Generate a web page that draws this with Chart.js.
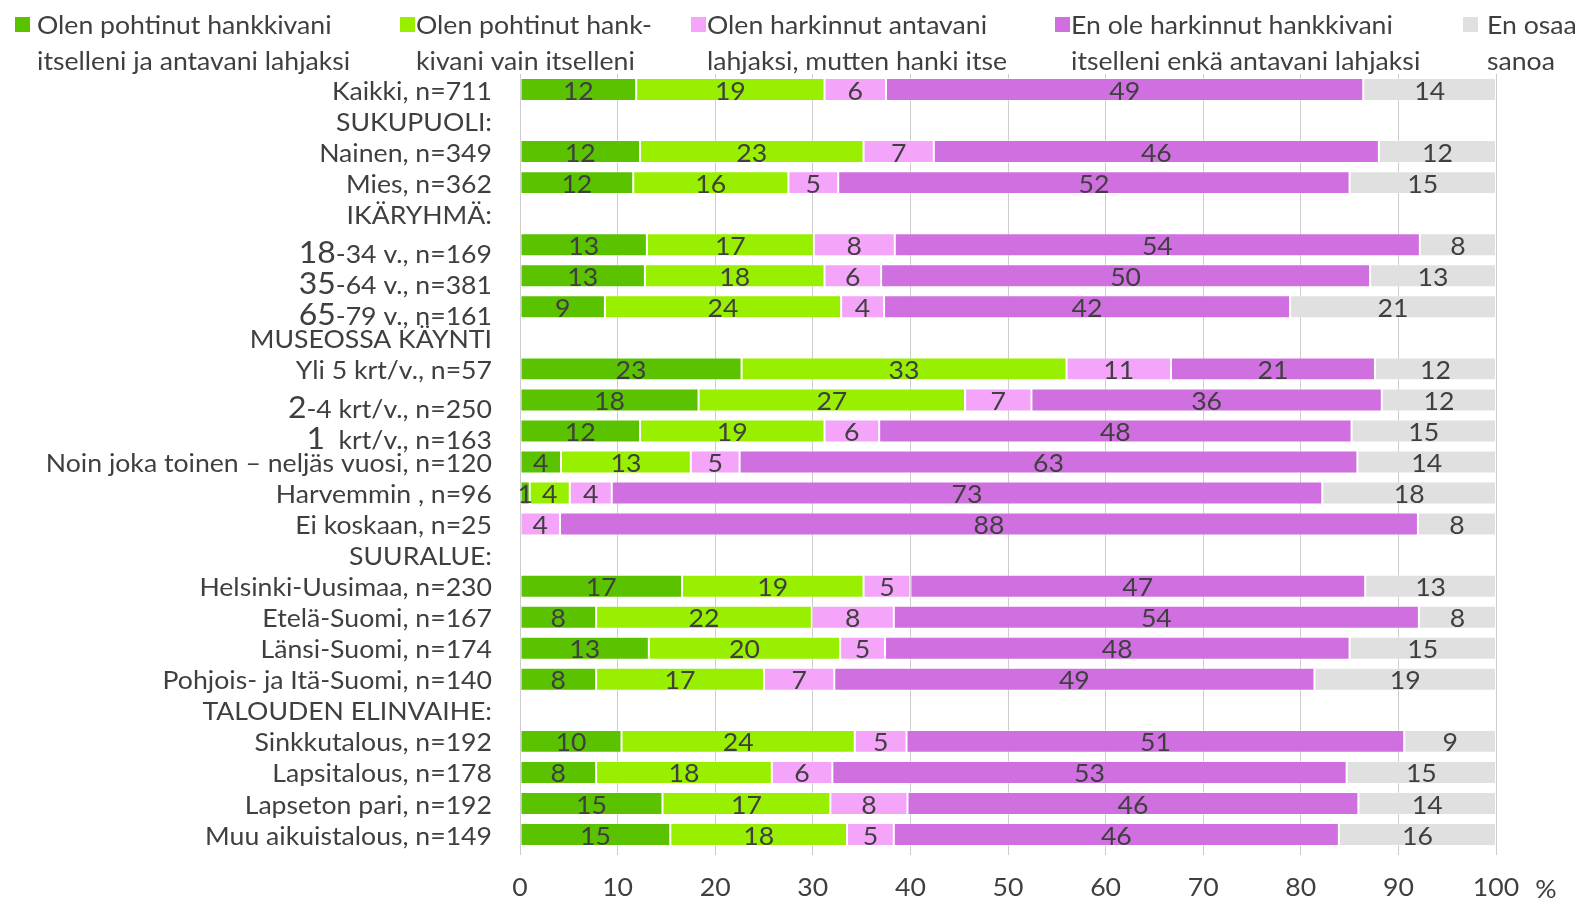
<!DOCTYPE html>
<html>
<head>
<meta charset="utf-8">
<script src="https://cdn.jsdelivr.net/npm/chart.js@4.4.1/dist/chart.umd.min.js"></script>
<style>
  html, body { margin: 0; padding: 0; background: #ffffff; }
  #wrap { width: 1581px; height: 899px; position: relative; }
</style>
</head>
<body>
<div id="wrap"><canvas id="chart" width="1581" height="899"></canvas></div>
<script>
// Row labels (group headings have no bars)
const categories = [
  'Kaikki, n=711',
  'SUKUPUOLI:',
  'Nainen, n=349',
  'Mies, n=362',
  'IKÄRYHMÄ:',
  '18-34 v., n=169',
  '35-64 v., n=381',
  '65-79 v., n=161',
  'MUSEOSSA KÄYNTI',
  'Yli 5 krt/v., n=57',
  '2-4 krt/v., n=250',
  '1  krt/v., n=163',
  'Noin joka toinen – neljäs vuosi, n=120',
  'Harvemmin , n=96',
  'Ei koskaan, n=25',
  'SUURALUE:',
  'Helsinki-Uusimaa, n=230',
  'Etelä-Suomi, n=167',
  'Länsi-Suomi, n=174',
  'Pohjois- ja Itä-Suomi, n=140',
  'TALOUDEN ELINVAIHE:',
  'Sinkkutalous, n=192',
  'Lapsitalous, n=178',
  'Lapseton pari, n=192',
  'Muu aikuistalous, n=149'
];

// Series names (two lines each in the legend)
const seriesNames = [
  ['Olen pohtinut hankkivani', 'itselleni ja antavani lahjaksi'],
  ['Olen pohtinut hank-', 'kivani vain itselleni'],
  ['Olen harkinnut antavani', 'lahjaksi, mutten hanki itse'],
  ['En ole harkinnut hankkivani', 'itselleni enkä antavani lahjaksi'],
  ['En osaa', 'sanoa']
];

// Shares, % of respondents
const bothValues    = [11.9, null, 12.3, 11.6, null, 13.0, 12.8,  8.7, null, 22.7, 18.3, 12.3,  4.2,  1.0,  0, null, 16.6,  7.8, 13.2,  7.8, null, 10.4,  7.8, 14.6, 15.4];
const selfValues    = [19.3, null, 22.9, 15.9, null, 17.1, 18.4, 24.2, null, 33.3, 27.3, 18.9, 13.3,  4.1,  0, null, 18.6, 22.1, 19.6, 17.2, null, 23.9, 18.0, 17.2, 18.1];
const giftValues    = [ 6.3, null,  7.2,  5.1, null,  8.3,  5.8,  4.4, null, 10.7,  6.8,  5.6,  5.0,  4.3,  4.1, null,  4.8,  8.4,  4.6,  7.2, null,  5.3,  6.2,  7.9,  4.8];
const neitherValues = [48.9, null, 45.6, 52.4, null, 53.8, 50.1, 41.6, null, 20.9, 35.9, 48.4, 63.3, 72.8, 87.9, null, 46.6, 53.8, 47.6, 49.2, null, 51.0, 52.7, 46.2, 45.6];
const unsureValues  = [13.6, null, 12.0, 15.0, null,  7.8, 12.9, 21.1, null, 12.4, 11.7, 14.8, 14.2, 17.8,  8.0, null, 13.4,  7.9, 15.0, 18.6, null,  9.4, 15.3, 14.1, 16.1];

const xTicks = [0, 10, 20, 30, 40, 50, 60, 70, 80, 90, 100];
const unitLabel = '%';

const seriesValues = [bothValues, selfValues, giftValues, neitherValues, unsureValues];
const seriesColors = ['#5BC200', '#99EF00', '#F4A5F9', '#D06FE0', '#E0E0E0'];

const FONT = 'Lato, "Open Sans", sans-serif';
const TEXT = '#3f3f3f';
const SIZE = 25;
const BIG = 30;
const STRETCH = 1.065;   // slightly widened lettering

function setFont(ctx, size) {
  ctx.font = size + 'px ' + FONT;
}

// Draws horizontally widened text anchored at (x, y)
function drawText(ctx, text, x, y, size, align, baseline) {
  ctx.save();
  setFont(ctx, size);
  ctx.textAlign = align;
  ctx.textBaseline = baseline;
  ctx.translate(x, y);
  ctx.scale(STRETCH, 1);
  ctx.fillText(text, 0, 0);
  ctx.restore();
}

function textWidth(ctx, text, size) {
  ctx.save();
  setFont(ctx, size);
  const w = ctx.measureText(text).width * STRETCH;
  ctx.restore();
  return w;
}

// Row labels at the left of the plot; leading numbers of age / visit rows are set larger
const rowLabelPlugin = {
  id: 'rowLabels',
  afterDraw(chart) {
    const ctx = chart.ctx;
    const yScale = chart.scales.y;
    const right = chart.chartArea.left - 28;
    ctx.save();
    ctx.fillStyle = TEXT;
    chart.data.labels.forEach((label, i) => {
      const py = yScale.getPixelForValue(i);
      const m = /^(\d+)(.*)$/.exec(label);
      if (m) {
        const base = py + 18;
        drawText(ctx, m[2], right, base, SIZE, 'right', 'alphabetic');
        const w = textWidth(ctx, m[2], SIZE);
        drawText(ctx, m[1], right - w, base, BIG, 'right', 'alphabetic');
      } else {
        drawText(ctx, label, right, py + 2, SIZE, 'right', 'middle');
      }
    });
    ctx.restore();
  }
};

// Value labels centred in each bar segment
const valueLabelPlugin = {
  id: 'valueLabels',
  afterDatasetsDraw(chart) {
    const ctx = chart.ctx;
    ctx.save();
    ctx.fillStyle = TEXT;
    chart.data.datasets.forEach((ds, di) => {
      const meta = chart.getDatasetMeta(di);
      meta.data.forEach((bar, i) => {
        const v = ds.data[i];
        if (v === null || v === undefined || v <= 0) return;
        const cx = (bar.x + bar.base) / 2;
        drawText(ctx, String(Math.round(v)), cx, bar.y + 2, SIZE, 'center', 'middle');
      });
    });
    ctx.restore();
  }
};

// Two-line legend across the top
const legendPlugin = {
  id: 'topLegend',
  afterDraw(chart, args, opts) {
    const ctx = chart.ctx;
    ctx.save();
    chart.data.datasets.forEach((ds, i) => {
      const x = opts.itemX[i];
      ctx.fillStyle = ds.backgroundColor;
      ctx.fillRect(x, opts.lineY[0] - 8, 15, 15);
      ctx.fillStyle = TEXT;
      seriesNames[i].forEach((line, li) => {
        drawText(ctx, line, x + opts.textGap[i], opts.lineY[li] + 1, SIZE, 'left', 'middle');
      });
    });
    ctx.restore();
  }
};

// X tick labels and the unit label after the last tick
const xLabelPlugin = {
  id: 'xLabels',
  afterDraw(chart) {
    const ctx = chart.ctx;
    const xScale = chart.scales.x;
    const y = chart.chartArea.bottom + 38;
    ctx.save();
    ctx.fillStyle = TEXT;
    xTicks.forEach(v => {
      drawText(ctx, String(v), xScale.getPixelForValue(v), y, SIZE, 'center', 'middle');
    });
    drawText(ctx, unitLabel, xScale.getPixelForValue(100) + 50, y + 2, SIZE, 'center', 'middle');
    ctx.restore();
  }
};

const datasets = seriesValues.map((vals, i) => ({
  label: seriesNames[i].join(' '),
  data: vals,
  backgroundColor: seriesColors[i],
  borderColor: 'rgba(255,255,255,0.35)',
  borderWidth: 1,
  borderSkipped: false,
  barPercentage: 0.74,
  categoryPercentage: 1.0
}));

new Chart(document.getElementById('chart'), {
  type: 'bar',
  data: { labels: categories, datasets },
  options: {
    indexAxis: 'y',
    responsive: false,
    animation: false,
    layout: { padding: { left: 520, right: 85, top: 74, bottom: 0 } },
    scales: {
      x: {
        stacked: true,
        min: 0,
        max: 100,
        afterBuildTicks(scale) { scale.ticks = xTicks.map(v => ({ value: v })); },
        afterFit(scale) { scale.height = 49; },
        ticks: { display: false },
        grid: { color: '#CCCCCC', lineWidth: 1, tickLength: 5, drawOnChartArea: true },
        border: { display: false }
      },
      y: {
        stacked: true,
        afterFit(scale) { scale.width = 0; },
        ticks: { display: false },
        grid: { display: false },
        border: { display: false }
      }
    },
    plugins: {
      legend: { display: false },
      tooltip: { enabled: false },
      topLegend: {
        itemX: [15, 400, 691, 1055, 1463],
        textGap: [22, 16, 16, 16, 24],
        lineY: [25, 61]
      }
    }
  },
  plugins: [rowLabelPlugin, valueLabelPlugin, legendPlugin, xLabelPlugin]
});
</script>
</body>
</html>
